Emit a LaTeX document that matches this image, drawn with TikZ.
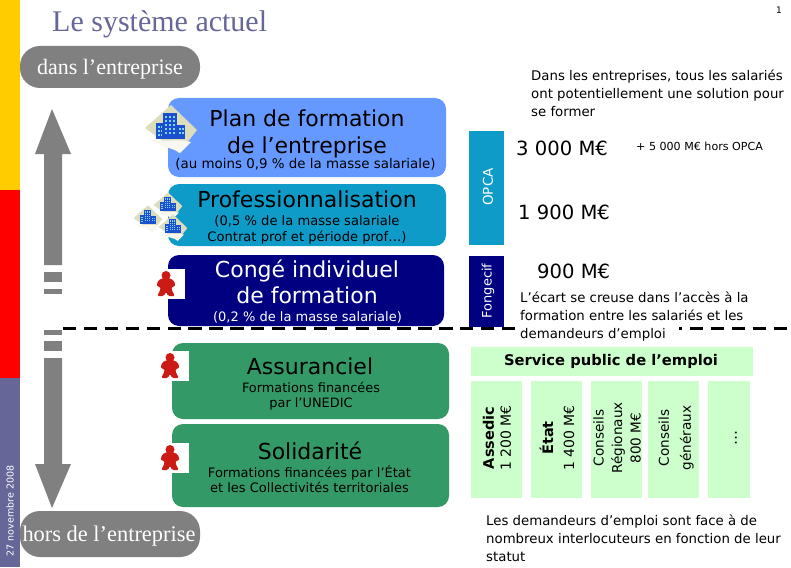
\documentclass[tikz,border=0pt]{standalone}
\usepackage{fontspec}
\setmainfont{DejaVu Sans}
\newfontfamily\serifface{Liberation Serif}
\definecolor{sideY}{HTML}{FFCC00}
\definecolor{sideP}{HTML}{666699}
\definecolor{planB}{HTML}{6699FF}
\definecolor{profB}{HTML}{0F9BC8}
\definecolor{navyB}{HTML}{000080}
\definecolor{greenB}{HTML}{339966}
\definecolor{paleG}{HTML}{CCFFCC}
\definecolor{gr}{HTML}{808080}
\definecolor{beige}{HTML}{DDDDBB}
\definecolor{bldg}{HTML}{1A4FD0}
\definecolor{meep}{HTML}{CC1A14}
\newcommand{\fsz}[1]{\dimen0=#1pt \dimen0=1.2\dimen0 \fontsize{#1}{\the\dimen0}\selectfont}
\tikzset{
  x=1pt,y=-1pt,
  card/.style={rounded corners=11pt,draw=none},
  txt/.style={inner sep=0pt,align=center,font=\fsz{#1}},
  txtl/.style={inner sep=0pt,align=left,anchor=west,font=\fsz{#1}},
  para/.style={inner sep=0pt,align=left,anchor=north west,font=\fontsize{13.3}{17.8}\selectfont},
  pill/.style={fill=gr,rounded corners=20pt,draw=none},
  bigarrow/.style={fill=gr,draw=none},
}
\newcommand{\bldgicon}[2]{%
 \begin{scope}[shift={(#1)},scale=#2]
  \fill[beige] (0,-23) -- (26,2) -- (8,25) -- (-26,0) -- cycle;
  \fill[white!80!beige] (-22,11) .. controls (-8,15) and (6,10) .. (20,14) -- (9,25) .. controls (4,20) and (-10,20) .. (-22,11) -- cycle;
  \fill[bldg] (-15,-5) rectangle (-6,11);
  \fill[bldg] (-8,-15) rectangle (6,11);
  \fill[bldg] (6,-3) rectangle (14,11);
  \foreach \i in {-13,-10.5} \foreach \j in {-2,2,6} \fill[cyan!50] (\i,\j) rectangle ++(1.5,2);
  \foreach \i in {-6,-2.5,1.5} \foreach \j in {-12,-8,-4,0,4} \fill[cyan!50] (\i,\j) rectangle ++(2,2);
  \foreach \j in {0,4} \foreach \i in {8,11} \fill[cyan!50] (\i,\j) rectangle ++(1.6,2);
 \end{scope}}
\newcommand{\meeple}[2]{%
 \fill[white] (#1-15,#2-15) rectangle (#1+18.5,#2+15);
 \begin{scope}[shift={(#1,#2)}]
  \fill[meep] (0,-8.5) circle (4.5);
  \fill[meep,rounded corners=1.5pt] (-3,-6) -- (3,-6) -- (8,-3.5) -- (9.5,2.5) -- (5.5,2.5) -- (6,7) -- (9,12) -- (2,12) -- (0,7.5) -- (-2,12) -- (-9,12) -- (-6,7) -- (-5.5,2.5) -- (-9.5,2.5) -- (-8,-3.5) -- cycle;
 \end{scope}}
\begin{document}
\begin{tikzpicture}
\useasboundingbox (0,0) rectangle (791,567);
\fill[white] (0,0) rectangle (791,567);
% sidebar
\fill[sideY] (0,0) rectangle (20,190);
\fill[red] (0,190) rectangle (20,378);
\fill[sideP] (0,378) rectangle (20,567);
\node[txt=9.5,text=white,rotate=90] (datelbl) at (10,511) {27 novembre 2008};
% title
\node[inner sep=0pt,text=sideP,anchor=west,font=\serifface\fontsize{30}{32}\selectfont] (title) at (52,24) {Le système actuel};
\node[txt=9] (pagenum) at (779,10) {1};
% pills
\node[pill,minimum width=180pt,minimum height=42pt,inner sep=0pt] (pilltop) at (110,67) {};
\node[text=white,inner sep=0pt,font=\serifface\fontsize{22}{24}\selectfont] (pilltoptxt) at (110,69) {dans l’entreprise};
\node[pill,minimum width=180pt,minimum height=46pt,inner sep=0pt] (pillbot) at (110,534) {};
\node[text=white,inner sep=0pt,font=\serifface\fontsize{22.4}{24}\selectfont] (pillbottxt) at (109,536) {hors de l’entreprise};
% arrows
\fill[bigarrow] (52,109) -- (71,154) -- (62,154) -- (62,265) -- (44,265) -- (44,154) -- (35,154) -- cycle;
\fill[gr] (44,272) rectangle (62,282);
\fill[gr] (44,289) rectangle (62,294);
\fill[gr] (44,330) rectangle (62,335);
\fill[gr] (44,341) rectangle (62,351);
\fill[bigarrow] (44,358) -- (62,358) -- (62,464) -- (71,464) -- (52,508) -- (35,464) -- (44,464) -- cycle;
% cards
\fill[card,fill=planB] (168,98) rectangle (446,177);
\fill[card,fill=profB] (168,184) rectangle (446,246);
\fill[card,fill=navyB] (168,255) rectangle (444,326);
\fill[card,fill=greenB] (172,343) rectangle (449,419);
\fill[card,fill=greenB] (172,424) rectangle (449,507);
% icons
\bldgicon{171,128}{1}
\bldgicon{148,218}{0.55}
\bldgicon{168,205}{0.55}
\bldgicon{173,227}{0.55}
\meeple{166}{284}
\meeple{170}{366}
\meeple{170}{458}
% card text
\node[txt=22,font=\fontsize{22}{27}\selectfont] (plantxt) at (307,134) {Plan de formation\\de l’entreprise};
\node[txt=13.4] (plansub) at (305.5,164) {(au moins 0,9 \% de la masse salariale)};
\node[txt=22] (proftxt) at (307,199) {Professionnalisation};
\node[txt=13.1] (profsub) at (307,230) {(0,5 \% de la masse salariale\\Contrat prof et période prof…)};
\node[txt=22,text=white] (congetxt) at (307,282) {Congé individuel\\de formation};
\node[txt=13,text=white] (congesub) at (307.5,317) {(0,2 \% de la masse salariale)};
\node[txt=22] (asstxt) at (310,366) {Assuranciel};
\node[txt=12.9] (asssub) at (311,396) {Formations financées\\par l’UNEDIC};
\node[txt=22] (soltxt) at (310,451) {Solidarité};
\node[txt=13] (solsub) at (309.5,479) {Formations financées par l’État\\et les Collectivités territoriales};
% dashed
\draw[line width=3.5pt,dash pattern=on 13.3pt off 7.6pt] (63,328.5) -- (791,328.5);
% OPCA / Fongecif
\fill[profB] (469,131) rectangle (504,245);
\fill[navyB] (469,256) rectangle (504,327);
\node[txt=13.5,text=white,rotate=90] (opca) at (488,187) {OPCA};
\node[txt=13,text=white,rotate=90] (fong) at (488,291) {Fongecif};
% right text
\node[para] (intro) at (531,70) {Dans les entreprises, tous les salariés\\ont potentiellement une solution pour\\se former};
\node[txtl=19.6] (m3000) at (516,148) {3 000 M€};
\node[txtl=11.1] (m5000) at (636,146) {+ 5 000 M€ hors OPCA};
\node[txtl=19.6] (m1900) at (518,212) {1 900 M€};
\node[txtl=19.6] (m900) at (537,271) {900 M€};
\node[fill=white,inner sep=0pt,anchor=west,minimum width=163pt,minimum height=17pt] (gapmask) at (516,333) {};
\node[para] (ecart) at (520,292) {L'écart se creuse dans l'accès à la\\formation entre les salariés et les\\demandeurs d'emploi};
% service public
\fill[paleG] (471,347) rectangle (753,376);
\node[inner sep=0pt,font=\bfseries\fsz{14.7}] (sp) at (611,361) {Service public de l’emploi};
\fill[paleG] (471,381) rectangle (522,498);
\fill[paleG] (531,381) rectangle (582,498);
\fill[paleG] (591,381) rectangle (642,498);
\fill[paleG] (648,381) rectangle (699,498);
\fill[paleG] (708,381) rectangle (750,498);
\node[rotate=90,inner sep=0pt,align=center,font=\fontsize{14}{17}\selectfont] (c1) at (497,438) {{\bfseries\fontsize{14.5}{17}\selectfont Assedic}\\{\fontsize{14}{17}\selectfont 1 200 M€}};
\node[rotate=90,inner sep=0pt,align=center,font=\fontsize{14}{21}\selectfont] (c2) at (557,438) {{\bfseries\fontsize{14.5}{21}\selectfont État}\\{\fontsize{14}{21}\selectfont 1 400 M€}};
\node[rotate=90,inner sep=0pt,align=center,font=\fontsize{13.6}{18.5}\selectfont] (c3) at (617,438) {Conseils\\Régionaux\\800 M€};
\node[rotate=90,inner sep=0pt,align=center,font=\fontsize{13.6}{22}\selectfont] (c4) at (676,438) {Conseils\\généraux};
\node[rotate=90,txt=15] (c5) at (736,438) {…};
% bottom text
\node[para] (bottom) at (486,515) {Les demandeurs d'emploi sont face à de\\nombreux interlocuteurs en fonction de leur\\statut};
\end{tikzpicture}
\end{document}
